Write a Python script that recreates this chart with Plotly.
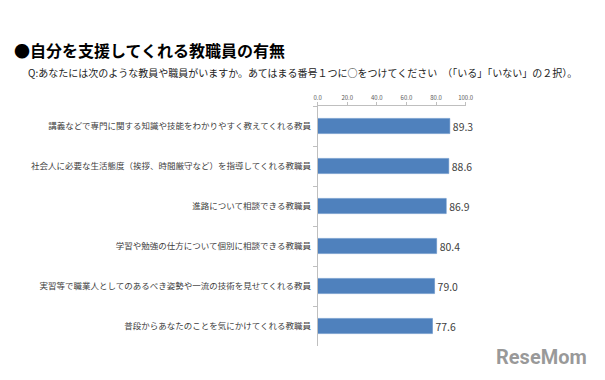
import plotly.graph_objects as go

categories = [
    "講義などで専門に関する知識や技能をわかりやすく教えてくれる教員",
    "社会人に必要な生活態度（挨拶、時間厳守など）を指導してくれる教職員",
    "進路について相談できる教職員",
    "学習や勉強の仕方について個別に相談できる教職員",
    "実習等で職業人としてのあるべき姿勢や一流の技術を見せてくれる教員",
    "普段からあなたのことを気にかけてくれる教職員",
]
values = [89.3, 88.6, 86.9, 80.4, 79.0, 77.6]
x_ticks = [0, 20, 40, 60, 80, 100]

W, H = 605, 380
FONT = "Noto Sans CJK JP"

fig = go.Figure(go.Bar(
    y=categories,
    x=values,
    orientation="h",
    marker=dict(color="#4F81BD", line=dict(color="#5a8ac4", width=0.5)),
    width=0.38,
    text=[f"{v:.1f}" for v in values],
    textposition="outside",
    textfont=dict(size=11, color="#404040", family=FONT),
    cliponaxis=False,
))

fig.update_layout(
    width=W, height=H,
    margin=dict(l=0, r=0, t=0, b=0),
    paper_bgcolor="white", plot_bgcolor="white",
    showlegend=False,
    font=dict(family=FONT),
    xaxis=dict(
        domain=[320 / W, 471 / W],
        range=[0, 100],
        side="top",
        tickvals=x_ticks,
        ticktext=[f"{t:.1f}" for t in x_ticks],
        tickfont=dict(size=6, color="#595959"),
        ticks="outside", ticklen=3, tickcolor="#bfbfbf",
        showline=True, linecolor="#bfbfbf", linewidth=1,
        showgrid=False, zeroline=False,
        fixedrange=True,
    ),
    yaxis=dict(
        domain=[1 - 346 / H, 1 - 106 / H],
        autorange="reversed",
        tickson="boundaries",
        ticks="outside", ticklen=4, tickcolor="#bfbfbf",
        showline=True, linecolor="#bfbfbf", linewidth=1,
        tickfont=dict(size=8.5, color="#404040"),
        ticklabelstandoff=4,
        showgrid=False, zeroline=False,
    ),
    annotations=[
        dict(text="<b>●自分を支援してくれる教職員の有無</b>", x=8 / W, y=1 - 50 / H,
             xref="paper", yref="paper", xanchor="left", yanchor="middle",
             showarrow=False, font=dict(size=16, color="#000000", family=FONT)),
        dict(text="Q:あなたには次のような教員や職員がいますか。あてはまる番号１つに○をつけてください　（「いる」「いない」の２択）。",
             x=22 / W, y=1 - 72 / H,
             xref="paper", yref="paper", xanchor="left", yanchor="middle",
             showarrow=False, font=dict(size=10, color="#222222", family=FONT)),
        dict(text="<b>ReseMom</b>", x=500 / W, y=1 - 357 / H,
             xref="paper", yref="paper", xanchor="left", yanchor="middle",
             showarrow=False, font=dict(size=20, color="rgba(120,120,120,0.75)", family="Roboto")),
    ],
)

fig.write_html("out.html")
